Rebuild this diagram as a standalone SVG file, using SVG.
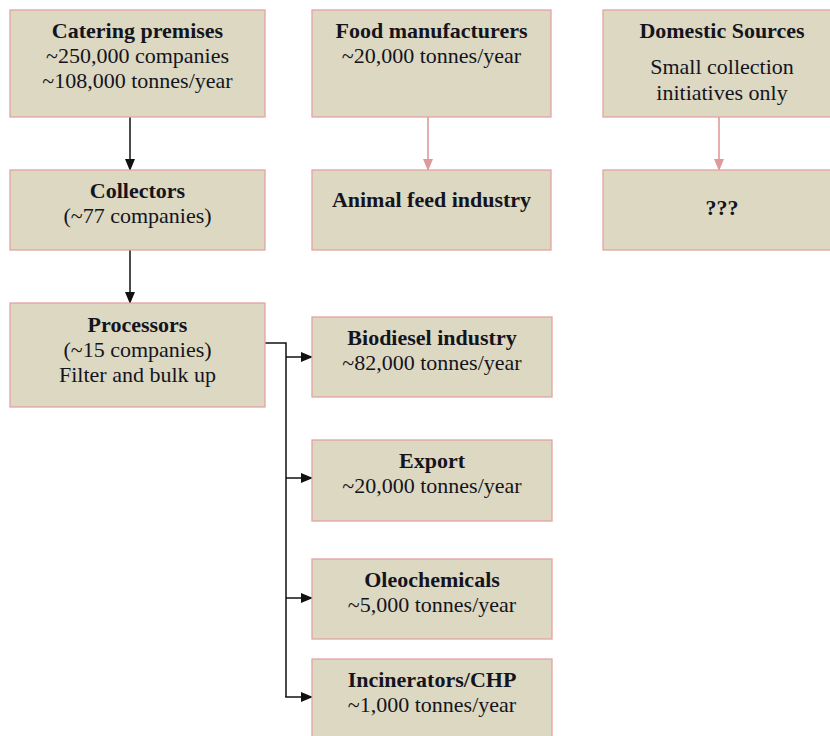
<svg xmlns="http://www.w3.org/2000/svg" width="830" height="736" viewBox="0 0 830 736">
<defs>
<style>
.box{fill:#DCD8C1;stroke:#E3A3A3;stroke-width:1.3}
.t{font-size:22px;fill:#141420;text-anchor:middle}
.b{font-weight:bold}
.ln{fill:none;stroke:#111;stroke-width:1.5}
.pk{fill:none;stroke:#DE9A9A;stroke-width:1.6}
</style>
<marker id="ah" markerWidth="12" markerHeight="10" refX="11" refY="5" orient="auto" markerUnits="userSpaceOnUse"><path d="M0,0 L12,5 L0,10 Z" fill="#111"/></marker>
<marker id="ap" markerWidth="12" markerHeight="10" refX="11" refY="5" orient="auto" markerUnits="userSpaceOnUse"><path d="M0,0 L12,5 L0,10 Z" fill="#DE9A9A"/></marker>
</defs>
<rect width="830" height="736" fill="#fff"/>
<g id="connectors">
<line class="ln" x1="130" y1="117" x2="130" y2="170" marker-end="url(#ah)"/>
<line class="ln" x1="130" y1="250" x2="130" y2="303" marker-end="url(#ah)"/>
<line class="pk" x1="428" y1="117" x2="428" y2="170" marker-end="url(#ap)"/>
<line class="pk" x1="719" y1="117" x2="719" y2="170" marker-end="url(#ap)"/>
<path class="ln" d="M265,343 H286 V697"/>
<line class="ln" x1="286" y1="357" x2="312" y2="357" marker-end="url(#ah)"/>
<line class="ln" x1="286" y1="478" x2="312" y2="478" marker-end="url(#ah)"/>
<line class="ln" x1="286" y1="598" x2="312" y2="598" marker-end="url(#ah)"/>
<line class="ln" x1="285.25" y1="697" x2="312" y2="697" marker-end="url(#ah)"/>
</g>
<g font-family="'Liberation Serif', 'Times New Roman', 'DejaVu Serif', serif">
<g id="catering">
<rect class="box" x="10" y="10" width="255" height="107"/>
<text class="t b" x="137.5" y="38">Catering premises</text>
<text class="t" x="137.5" y="63">~250,000 companies</text>
<text class="t" x="137.5" y="88">~108,000 tonnes/year</text>
</g>
<g id="food">
<rect class="box" x="312" y="10" width="239" height="107"/>
<text class="t b" x="431.5" y="38">Food manufacturers</text>
<text class="t" x="431.5" y="63">~20,000 tonnes/year</text>
</g>
<g id="domestic">
<rect class="box" x="603" y="10" width="239" height="107"/>
<text class="t b" x="722" y="38">Domestic Sources</text>
<text class="t" x="722" y="74">Small collection</text>
<text class="t" x="722" y="100">initiatives only</text>
</g>
<g id="collectors">
<rect class="box" x="10" y="170" width="255" height="80"/>
<text class="t b" x="137.5" y="198">Collectors</text>
<text class="t" x="137.5" y="223">(~77 companies)</text>
</g>
<g id="animalfeed">
<rect class="box" x="312" y="170" width="239" height="80"/>
<text class="t b" x="431.5" y="207">Animal feed industry</text>
</g>
<g id="unknown">
<rect class="box" x="603" y="170" width="239" height="80"/>
<text class="t b" x="722" y="215">???</text>
</g>
<g id="processors">
<rect class="box" x="10" y="303" width="255" height="104"/>
<text class="t b" x="137.5" y="332">Processors</text>
<text class="t" x="137.5" y="357">(~15 companies)</text>
<text class="t" x="137.5" y="382">Filter and bulk up</text>
</g>
<g id="biodiesel">
<rect class="box" x="312" y="317" width="240" height="80"/>
<text class="t b" x="432" y="345">Biodiesel industry</text>
<text class="t" x="432" y="370">~82,000 tonnes/year</text>
</g>
<g id="export">
<rect class="box" x="312" y="440" width="240" height="81"/>
<text class="t b" x="432" y="468">Export</text>
<text class="t" x="432" y="493">~20,000 tonnes/year</text>
</g>
<g id="oleochemicals">
<rect class="box" x="312" y="559" width="240" height="80"/>
<text class="t b" x="432" y="587">Oleochemicals</text>
<text class="t" x="432" y="612">~5,000 tonnes/year</text>
</g>
<g id="incinerators">
<rect class="box" x="312" y="659" width="240" height="85"/>
<text class="t b" x="432" y="687">Incinerators/CHP</text>
<text class="t" x="432" y="712">~1,000 tonnes/year</text>
</g>
</g>
</svg>
